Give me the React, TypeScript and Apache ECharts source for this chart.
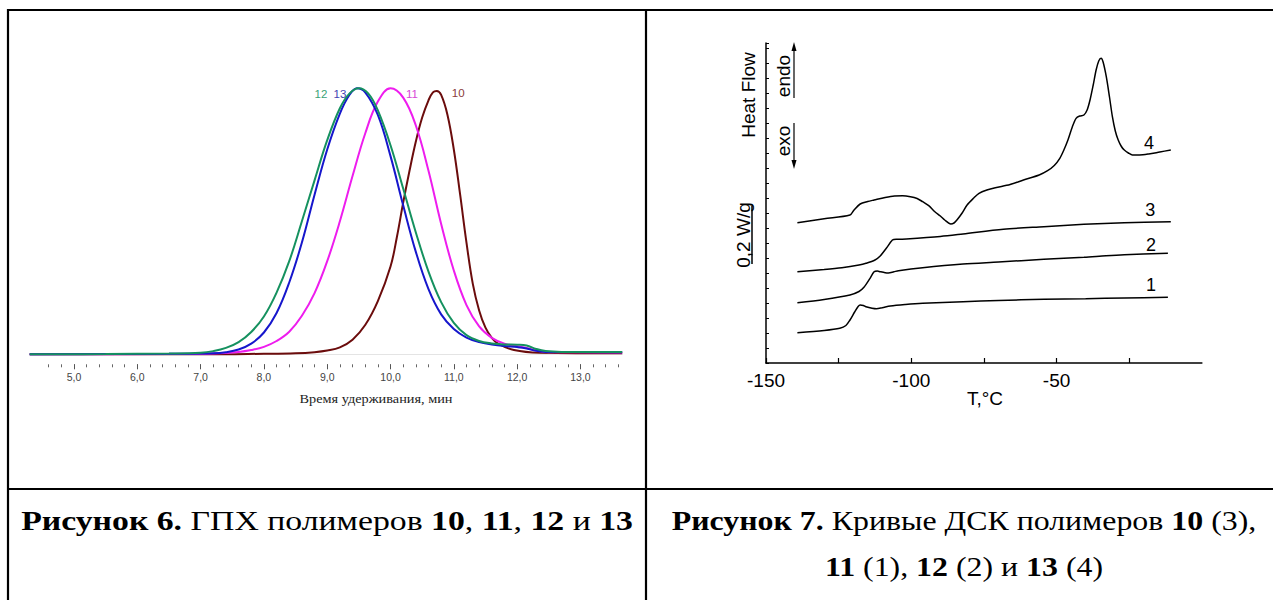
import React, { useEffect, useRef } from "react";
import * as echarts from "echarts";

// ---------- GPC (left chart) ----------
const gpcMajorTicks = [5, 6, 7, 8, 9, 10, 11, 12, 13];
const gpcTickLabels = ["5,0", "6,0", "7,0", "8,0", "9,0", "10,0", "11,0", "12,0", "13,0"];
const gpcMinorTicks: number[] = [];
for (let i = 0; i <= 45; i++) gpcMinorTicks.push(Math.round((4.6 + i * 0.2) * 10) / 10);

const gpcNames = ["10", "11", "12", "13"];

const gpc10 = [
  [4.3, 0], [7.0, 0.0], [8.0, 0.002], [8.5, 0.004], [8.8, 0.008], [9.0, 0.014], [9.2, 0.026],
  [9.4, 0.055], [9.6, 0.11], [9.8, 0.2], [10.0, 0.33], [10.1, 0.44], [10.2, 0.57], [10.3, 0.69],
  [10.4, 0.8], [10.5, 0.89], [10.6, 0.955], [10.67, 0.985], [10.73, 0.99], [10.8, 0.975],
  [10.9, 0.9], [11.0, 0.77], [11.1, 0.6], [11.2, 0.42], [11.3, 0.265], [11.4, 0.165],
  [11.5, 0.1], [11.6, 0.062], [11.7, 0.04], [11.95, 0.016], [12.35, 0.006], [13.66, 0.004],
];
const gpc11 = [
  [4.3, 0], [6.5, 0.001], [7.2, 0.003], [7.6, 0.009], [7.8, 0.016], [8.0, 0.028], [8.2, 0.05],
  [8.4, 0.085], [8.6, 0.145], [8.8, 0.23], [9.0, 0.35], [9.2, 0.5], [9.4, 0.67], [9.6, 0.83],
  [9.8, 0.95], [10.0, 1.0], [10.2, 0.965], [10.4, 0.86], [10.6, 0.69], [10.8, 0.49], [11.0, 0.315],
  [11.2, 0.185], [11.4, 0.105], [11.6, 0.062], [11.8, 0.04], [12.0, 0.03], [12.15, 0.024],
  [12.3, 0.014], [12.5, 0.008], [13.66, 0.007],
];
const gpc12 = [
  [4.3, 0], [5.5, 0.001], [6.5, 0.003], [7.0, 0.006], [7.2, 0.012], [7.4, 0.024], [7.6, 0.046],
  [7.8, 0.084], [8.0, 0.142], [8.2, 0.232], [8.4, 0.35], [8.6, 0.5], [8.8, 0.654], [9.0, 0.805],
  [9.2, 0.925], [9.35, 0.98], [9.5, 1.0], [9.65, 0.98], [9.8, 0.917], [10.0, 0.786], [10.2, 0.623],
  [10.4, 0.458], [10.6, 0.311], [10.8, 0.196], [11.0, 0.118], [11.2, 0.072], [11.4, 0.05],
  [11.6, 0.041], [11.8, 0.037], [12.0, 0.036], [12.15, 0.033], [12.3, 0.02], [12.45, 0.012],
  [12.7, 0.009], [13.66, 0.009],
];
const gpc13 = [
  [4.3, 0], [6.5, 0.002], [7.2, 0.004], [7.4, 0.008], [7.6, 0.018], [7.8, 0.04], [8.0, 0.082],
  [8.2, 0.155], [8.4, 0.27], [8.6, 0.42], [8.8, 0.6], [9.0, 0.77], [9.2, 0.905], [9.35, 0.975],
  [9.47, 1.0], [9.6, 0.985], [9.8, 0.9], [10.0, 0.745], [10.2, 0.56], [10.4, 0.385], [10.6, 0.245],
  [10.8, 0.15], [11.0, 0.095], [11.2, 0.063], [11.4, 0.046], [11.6, 0.037], [11.8, 0.031],
  [12.0, 0.027], [12.15, 0.022], [12.3, 0.013], [12.45, 0.009], [13.66, 0.008],
];
// label anchor positions [x, y] in data units
const gpcLabelPos = [[11.07, 0.982], [10.34, 0.979], [8.9, 0.979], [9.2, 0.979]];

// ---------- DSC (right chart) ----------
const dscMajorTicks = [-150, -100, -50];
const dscAllTicks = [-150, -125, -100, -75, -50, -25];
const dscNames = ["1", "2", "3", "4"];

const dsc1 = [
  [-139.2, 30.3], [-130, 32.5], [-124.6, 34.7], [-122.5, 37.5], [-121.1, 43], [-119.5, 51],
  [-118.3, 56.5], [-117.6, 58], [-116.5, 57.5], [-115.6, 56.3], [-113.5, 54.8], [-112, 54.3],
  [-110, 55.3], [-107.2, 57], [-102, 58.5], [-96.1, 59.7], [-82.2, 61.3], [-70, 62.5],
  [-54.4, 63.7], [-40, 64.3], [-26.7, 65], [-11.7, 65.7],
];
const dsc2 = [
  [-139.2, 60.3], [-130, 63.5], [-121.1, 68], [-118, 71.5], [-116.3, 75.7], [-114.2, 84.7],
  [-112.8, 91.3], [-111.7, 92], [-110.7, 91.3], [-109, 90.3], [-107.9, 90], [-106, 91.2],
  [-104.4, 92.3], [-96.1, 95.3], [-82.2, 99], [-70, 101], [-54.4, 103.7], [-40.6, 105.7],
  [-33, 107.3], [-26.7, 108.3], [-11.7, 109.7],
];
const dsc3 = [
  [-139.2, 91.3], [-130, 93.5], [-123.9, 95.3], [-118, 98], [-115.6, 99.7], [-112.5, 103],
  [-110.7, 107], [-108.6, 114.7], [-106.5, 123], [-105.2, 123.8], [-104.4, 123.7],
  [-101.7, 124], [-90, 126.5], [-82.2, 129], [-68.3, 133.7], [-54.4, 136.3], [-40.6, 138.7],
  [-26.7, 140.3], [-10.7, 141.3],
];
const dsc4 = [
  [-139.2, 140.3], [-130, 144.3], [-121.1, 148], [-119.7, 153], [-117.6, 159], [-115, 161.5],
  [-112.8, 163], [-109, 165.5], [-105.8, 167], [-103, 167.2], [-100.3, 166.3], [-98, 164.5],
  [-96.1, 161.3], [-94, 157.3], [-91.9, 151.3], [-90, 147], [-88.5, 143], [-86.4, 139],
  [-85.3, 140], [-84.3, 143], [-82.5, 150], [-80.8, 158], [-78.5, 165], [-76.7, 169.7],
  [-74, 173], [-71.1, 175.3], [-66, 178.5], [-61.4, 183], [-56, 188], [-53.1, 192.3],
  [-50.8, 197.5], [-48.9, 204.7], [-47.5, 213], [-46.1, 223], [-44.6, 236], [-43.3, 244.7],
  [-42, 247], [-40.6, 248], [-39.5, 253], [-38.5, 263], [-37.4, 278], [-36.4, 293],
  [-35.5, 302], [-34.7, 304.7], [-34, 301], [-32.9, 286.3], [-31.8, 266], [-30.8, 246.3],
  [-29.8, 232], [-28.8, 223], [-27.7, 216.5], [-26.7, 213], [-25.3, 210], [-23.9, 208],
  [-21.5, 208], [-18.3, 209], [-14.5, 211], [-10.7, 213],
];
const dscLabelPos = [[-17.5, 78], [-17.5, 118], [-17.8, 153], [-18.2, 220]];

const SANS = "Liberation Sans, Arial, sans-serif";
const SERIF = "Liberation Serif, Times New Roman, serif";

export default function App() {
  const ref = useRef<HTMLDivElement>(null);
  useEffect(() => {
    if (!ref.current) return;
    const chart = echarts.init(ref.current, undefined, { renderer: "svg" });

    const gpcData = [gpc10, gpc11, gpc12, gpc13];
    const gpcColors = ["#6b0c0c", "#ee1cee", "#15915f", "#1616cc"];
    const gpcLabelColors = ["#8a3a3a", "#d748d7", "#3aa276", "#4343b3"];
    const order = [0, 1, 3, 2];

    const gpcSeries = order.map((i) => ({
      type: "line",
      name: gpcNames[i],
      xAxisIndex: 0,
      yAxisIndex: 0,
      data: gpcData[i],
      showSymbol: false,
      smooth: 0.4,
      clip: false,
      lineStyle: { color: gpcColors[i], width: 2 },
      markPoint: {
        symbol: "circle",
        symbolSize: 0,
        label: {
          show: true,
          position: "inside",
          formatter: gpcNames[i],
          color: gpcLabelColors[i],
          fontSize: 11.5,
          fontFamily: SANS,
        },
        data: [{ coord: gpcLabelPos[i] }],
      },
    }));

    const dscData = [dsc1, dsc2, dsc3, dsc4];
    const dscSeries = dscData.map((d, i) => ({
      type: "line",
      name: dscNames[i],
      xAxisIndex: 3,
      yAxisIndex: 1,
      data: d,
      showSymbol: false,
      smooth: 0.3,
      clip: false,
      lineStyle: { color: "#000", width: 1.5 },
      markPoint: {
        symbol: "circle",
        symbolSize: 0,
        label: {
          show: true,
          position: "inside",
          formatter: dscNames[i],
          color: "#000",
          fontSize: 18,
          fontFamily: SANS,
        },
        data: [{ coord: dscLabelPos[i] }],
      },
    }));

    const border = (x1: number, y1: number, x2: number, y2: number) => ({
      type: "line",
      shape: { x1, y1, x2, y2 },
      style: { stroke: "#000", lineWidth: 2.2 },
      silent: true,
    });

    const captionRich = {
      b: { fontFamily: SERIF, fontSize: 27, fontWeight: "bold", color: "#000" },
      r: { fontFamily: SERIF, fontSize: 27, color: "#000" },
    };
    const caption = (text: string, x: number, y: number, sx: number) => ({
      type: "text",
      x,
      y,
      scaleX: sx,
      style: {
        text,
        rich: captionRich,
        fontFamily: SERIF,
        fontSize: 27,
        fill: "#000",
        align: "center",
        verticalAlign: "middle",
      },
    });

    const rotText = (text: string, x: number, y: number) => ({
      type: "text",
      x,
      y,
      rotation: Math.PI / 2,
      style: {
        text,
        fontFamily: SANS,
        fontSize: 19,
        fill: "#000",
        align: "center",
        verticalAlign: "middle",
      },
    });

    chart.setOption({
      animation: false,
      backgroundColor: "#fff",
      grid: [
        { left: 29.7, top: 88.3, width: 592.5, height: 266 },
        { left: 766, top: 43, width: 435.9, height: 320 },
      ],
      xAxis: [
        {
          gridIndex: 0, type: "value", min: 4.3, max: 13.66,
          axisLine: { show: true, lineStyle: { color: "#e4e4e4", width: 1 } },
          axisTick: { show: false }, axisLabel: { show: false }, splitLine: { show: false },
        },
        {
          gridIndex: 0, type: "value", min: 4.3, max: 13.66, position: "bottom", offset: 10,
          axisLine: { show: false },
          axisTick: { show: true, customValues: gpcMinorTicks, length: 3, lineStyle: { color: "#666", width: 1 } },
          axisLabel: { show: false }, splitLine: { show: false },
        },
        {
          gridIndex: 0, type: "value", min: 4.3, max: 13.66, position: "bottom", offset: 10,
          axisLine: { show: false },
          axisTick: { show: true, customValues: gpcMajorTicks, length: 5, lineStyle: { color: "#555", width: 1 } },
          axisLabel: {
            show: true, customValues: gpcMajorTicks, margin: 7, fontSize: 10.5, color: "#444", fontFamily: SANS,
            formatter: (v: number) => gpcTickLabels[gpcMajorTicks.indexOf(Math.round(v))] ?? "",
          },
          splitLine: { show: false },
        },
        {
          gridIndex: 1, type: "value", min: -150, max: 0,
          axisLine: { show: true, onZero: false, lineStyle: { color: "#000", width: 1.5 } },
          axisTick: { show: true, inside: true, customValues: dscAllTicks, length: 5, lineStyle: { color: "#000", width: 1.2 } },
          axisLabel: { show: true, customValues: dscMajorTicks, margin: 8, fontSize: 19, color: "#000", fontFamily: SANS },
          splitLine: { show: false },
        },
      ],
      yAxis: [
        { gridIndex: 0, type: "value", min: 0, max: 1, show: false },
        {
          gridIndex: 1, type: "value", min: 0, max: 320, interval: 15,
          axisLine: { show: true, onZero: false, lineStyle: { color: "#000", width: 1.5 } },
          axisTick: { show: true, inside: true, length: 3, lineStyle: { color: "#000", width: 1 } },
          axisLabel: { show: false }, splitLine: { show: false },
        },
      ],
      series: [...gpcSeries, ...dscSeries],
      graphic: [
        border(7, 10, 1273, 10),
        border(8, 9, 8, 600),
        border(646, 9, 646, 600),
        border(7, 489, 1273, 489),
        {
          type: "text", x: 376, y: 399, scaleX: 1.1,
          style: { text: "Время удерживания, мин", fontFamily: SERIF, fontSize: 13, fill: "#222", align: "center", verticalAlign: "middle" },
        },
        {
          type: "text", x: 985, y: 398,
          style: { text: "T,°C", fontFamily: SANS, fontSize: 19, fill: "#000", align: "center", verticalAlign: "middle" },
        },
        rotText("Heat Flow", 748, 95),
        rotText("endo", 783, 76),
        rotText("exo", 783, 141),
        rotText("0,2 W/g", 743, 235),
        { type: "line", shape: { x1: 752, y1: 206, x2: 752, y2: 264 }, style: { stroke: "#000", lineWidth: 1.5 } },
        { type: "line", shape: { x1: 794, y1: 98, x2: 794, y2: 48 }, style: { stroke: "#000", lineWidth: 1.2 } },
        { type: "polygon", shape: { points: [[794, 42], [791.5, 51], [796.5, 51]] }, style: { fill: "#000" } },
        { type: "line", shape: { x1: 794, y1: 123, x2: 794, y2: 163 }, style: { stroke: "#000", lineWidth: 1.2 } },
        { type: "polygon", shape: { points: [[794, 169], [791.5, 160], [796.5, 160]] }, style: { fill: "#000" } },
        caption("{b|Рисунок 6.}{r| ГПХ полимеров }{b|10}{r|, }{b|11}{r|, }{b|12}{r| и }{b|13}", 327, 521, 1.25),
        caption("{b|Рисунок 7.}{r| Кривые ДСК полимеров }{b|10}{r| (3),}", 964, 521, 1.18),
        caption("{b|11}{r| (1), }{b|12}{r| (2) и }{b|13}{r| (4)}", 964, 567, 1.18),
      ],
    });
    return () => chart.dispose();
  }, []);

  return (
    <div
      ref={ref}
      style={{ position: "fixed", left: 0, top: 0, width: 1273, height: 600, background: "#fff" }}
    />
  );
}
